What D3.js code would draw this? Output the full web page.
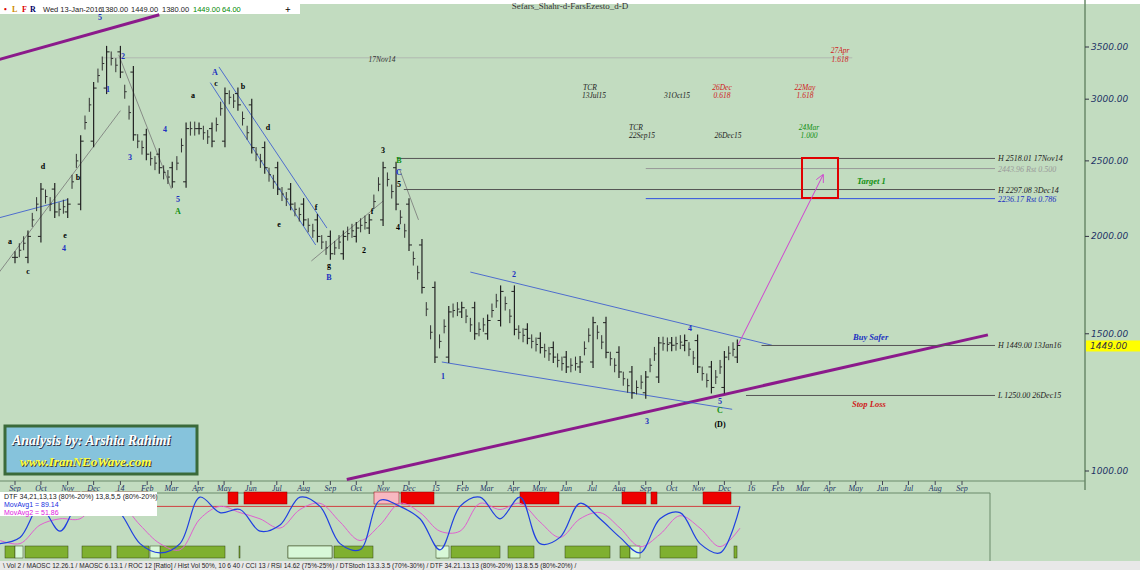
<!DOCTYPE html><html><head><meta charset="utf-8">
<script src="https://cdn.jsdelivr.net/npm/d3@7"></script>
<style>body{margin:0;background:#c2dcc0}svg{display:block}</style></head><body>
<svg id="c" width="1140" height="570"></svg>
<script>
// ---- data ----
const startDate = "2013-09-01";
const closes = [1880,2000,2300,2150,2200,2650,3100,3450,3250,2700,2550,2450,2350,2750,2750,2650,3050,2950,2600,2450,2300,2200,2100,2000,1900,2000,2050,2100,2450,2200,1950,1720,1400,1600,1620,1500,1560,1700,1520,1480,1440,1400,1360,1380,1550,1420,1340,1260,1320,1460,1450,1470,1360,1280,1400,1449];
const priceTicks = [1000,1500,2000,2500,3000,3500];
const monthLabels = ["Sep","Oct","Nov","Dec","14","Feb","Mar","Apr","May","Jun","Jul","Aug","Sep","Oct","Nov","Dec","15","Feb","Mar","Apr","May","Jun","Jul","Aug","Sep","Oct","Nov","Dec","16","Feb","Mar","Apr","May","Jun","Jul","Aug","Sep"];
const levels = [
 {p:2518.01,t:"H 2518.01 17Nov14",c:"#555",from:"2014-11-17",tc:"#222"},
 {p:2443.96,t:"2443.96 Rst 0.500",c:"#999",from:"2015-09-01",tc:"#999"},
 {p:2297.08,t:"H 2297.08 3Dec14",c:"#555",from:"2014-11-25",tc:"#222"},
 {p:2236.17,t:"2236.17 Rst 0.786",c:"#3050e0",from:"2015-09-01",tc:"#2030c0"},
 {p:1449.00,t:"H 1449.00 13Jan16",c:"#555",from:"2016-01-13",tc:"#222"},
 {p:1250.00,t:"L 1250.00 26Dec15",c:"#555",from:"2015-12-26",tc:"#222"}];
const oscBlue = [20,30,80,40,90,95,70,20,5,20,95,70,75,40,50,95,80,20,10,90,80,60,10,80,95,60,95,20,30,85,60,30,5,60,70,20,5,80];
const oscPink = [25,20,50,60,60,90,85,50,20,10,60,80,70,60,45,75,85,55,25,50,85,70,40,40,85,75,85,55,30,60,70,45,15,35,65,45,15,45];
const redBoxes = [[68,80],[82,97],[115,148],[228,238],[244,287],[374,399],[401,434],[520,559],[622,646],[651,657],[703,731]];
const greenBoxes = [[5,15],[25,68],[82,111],[117,149],[160,225],[239,240],[288,332],[334,373],[437,440],[451,500],[508,534],[565,610],[620,630],[660,697],[734,737]];
const lightGreen = [[15,23],[150,160],[288,332],[436,449],[630,640]];

const svg = d3.select("#c");
const W=1140;
const x = d3.scaleTime().domain([new Date("2013-09-01"),new Date("2016-09-01")]).range([15,962]);
const y = d3.scaleLog().domain([1000,3500]).range([471,47]);
const dates = closes.map((c,i)=>d3.timeDay.offset(new Date(startDate), Math.round(i*15.2)));

svg.append("rect").attr("width",W).attr("height",570).attr("fill","#c2dcc0");
svg.append("rect").attr("x",0).attr("y",0).attr("width",W).attr("height",4).attr("fill","#fff");
svg.append("rect").attr("x",0).attr("y",4).attr("width",300).attr("height",10).attr("fill","#fff");
svg.append("text").attr("x",570).attr("y",9).attr("text-anchor","middle").attr("font-size",9).attr("fill","#333").attr("font-family","Liberation Serif").text("Sefars_Shahr-d-FarsEzesto_d-D");
const hdr=[["•",4,"#d00"],["L",12,"#c80"],["F",22,"#d00"],["R",30,"#006"]];
hdr.forEach(h=>svg.append("text").attr("x",h[1]).attr("y",12).attr("font-size",8).attr("font-weight","bold").attr("fill",h[2]).text(h[0]));
[["Wed 13-Jan-2016",43,"#222"],["1380.00",101,"#222"],["1449.00",131,"#222"],["1380.00",162,"#222"],["1449.00",193,"#080"],["64.00",222,"#080"]].forEach(h=>svg.append("text").attr("x",h[1]).attr("y",12).attr("font-size",7.5).attr("font-family","Liberation Sans").attr("fill",h[2]).text(h[0]));
svg.append("text").attr("x",285).attr("y",13).attr("font-size",10).attr("font-weight","bold").text("+");

svg.append("line").attr("x1",1085).attr("x2",1085).attr("y1",0).attr("y2",490).attr("stroke","#6a8a6a").attr("stroke-width",1.5);
priceTicks.forEach(p=>{
 svg.append("line").attr("x1",1085).attr("x2",1089).attr("y1",y(p)).attr("y2",y(p)).attr("stroke","#334");
 svg.append("text").attr("x",1091).attr("y",y(p)+3).attr("font-size",9).attr("font-style","italic").attr("fill","#223366").attr("font-family","DejaVu Sans").text(p.toFixed(2));
});
svg.append("rect").attr("x",1086).attr("y",y(1449)-5).attr("width",54).attr("height",11).attr("fill","#ffff00");
svg.append("text").attr("x",1090).attr("y",y(1449)+4).attr("font-size",9).attr("font-style","italic").attr("fill","#334").attr("font-family","DejaVu Sans").text("1449.00");

svg.append("line").attr("x1",0).attr("x2",1085).attr("y1",481).attr("y2",481).attr("stroke","#6a8a6a");
monthLabels.forEach((m,i)=>{
 const d=d3.timeMonth.offset(new Date("2013-09-01"),i), xx=x(d);
 svg.append("line").attr("x1",xx).attr("x2",xx).attr("y1",481).attr("y2",485).attr("stroke","#445");
 svg.append("text").attr("x",xx).attr("y",491).attr("text-anchor","middle").attr("font-size",8).attr("font-style","italic").attr("font-family","Liberation Serif").attr("fill","#223366").text(m);
});

const trend=[[["2013-06-01",3200],["2014-02-15",3850]],[["2014-09-20",975],["2016-10-01",1495]]];
trend.forEach(t=>svg.append("line").attr("x1",x(new Date(t[0][0]))).attr("y1",y(t[0][1])).attr("x2",x(new Date(t[1][0]))).attr("y2",y(t[1][1])).attr("stroke","#8b1a8b").attr("stroke-width",3));
const chans=[[["2014-04-15",3150],["2014-08-15",1950],"#3050d0"],[["2014-04-25",3300],["2014-08-28",2050],"#3050d0"],[["2015-01-08",1380],["2015-12-10",1200],"#3050d0"],[["2015-02-10",1800],["2016-01-25",1450],"#3050d0"],[["2013-06-01",2010],["2013-11-01",2230],"#3050d0"],[["2013-06-01",1400],["2014-01-01",2900],"#777"],[["2013-12-30",3420],["2014-03-01",2300],"#777"],[["2014-08-10",1860],["2014-11-01",2220],"#777"],[["2014-11-20",2440],["2014-12-12",2100],"#777"]];
chans.forEach(t=>svg.append("line").attr("x1",x(new Date(t[0][0]))).attr("y1",y(t[0][1])).attr("x2",x(new Date(t[1][0]))).attr("y2",y(t[1][1])).attr("stroke",t[2]).attr("stroke-width",0.8));

svg.append("line").attr("x1",x(new Date("2013-12-10"))).attr("x2",x(new Date("2016-04-27"))).attr("y1",y(3390)).attr("y2",y(3390)).attr("stroke","#aaa").attr("stroke-width",0.7);
levels.forEach(l=>{
 svg.append("line").attr("x1",x(new Date(l.from))).attr("x2",995).attr("y1",y(l.p)).attr("y2",y(l.p)).attr("stroke",l.c).attr("stroke-width",1);
 svg.append("text").attr("x",998).attr("y",y(l.p)+3).attr("font-size",8).attr("font-style","italic").attr("font-family","Liberation Serif").attr("fill",l.tc).text(l.t);
});

const g=svg.append("g");
closes.forEach((c,i)=>{
 const prev=i?closes[i-1]:c, xx=x(dates[i]);
 const hi=Math.max(c,prev), lo=Math.min(c,prev);
 g.append("line").attr("x1",xx).attr("x2",xx).attr("y1",y(hi)-6).attr("y2",y(lo)+6).attr("stroke","#222").attr("stroke-width",1.2);
 g.append("line").attr("x1",xx-3).attr("x2",xx).attr("y1",y(prev)).attr("y2",y(prev)).attr("stroke","#222");
 g.append("line").attr("x1",xx).attr("x2",xx+3).attr("y1",y(c)).attr("y2",y(c)).attr("stroke","#222");
 if(i){const xp=x(dates[i-1]);[1/3,2/3].forEach(f=>{const xm=xp+(xx-xp)*f, v=prev+(c-prev)*f;g.append("line").attr("x1",xm).attr("x2",xm).attr("y1",y(v)-7).attr("y2",y(v)+7).attr("stroke","#333");g.append("line").attr("x1",xm).attr("x2",xm+2).attr("y1",y(v)).attr("y2",y(v)).attr("stroke","#333");});}
});

svg.append("rect").attr("x",802).attr("y",158).attr("width",36).attr("height",40).attr("fill","none").attr("stroke","#e00000").attr("stroke-width",2);
svg.append("defs").append("marker").attr("id","ah").attr("viewBox","0 0 10 10").attr("refX",9).attr("refY",5).attr("markerWidth",8).attr("markerHeight",8).attr("orient","auto").append("path").attr("d","M0,0L10,5L0,10").attr("fill","none").attr("stroke","#d040d0");
svg.append("line").attr("x1",738).attr("y1",345).attr("x2",823).attr("y2",175).attr("stroke","#d040d0").attr("stroke-width",1).attr("marker-end","url(#ah)");

const ann=[[100,20,"5","#2030c0"],[123,59,"2","#2030c0"],[108,92,"1","#2030c0"],[130,160,"3","#2030c0"],[165,132,"4","#2030c0"],[178,202,"5","#2030c0"],[178,214,"A","#109010"],[215,75,"A","#2030c0"],[216,86,"c","#000"],[193,98,"a","#000"],[243,89,"b","#000"],[268,130,"d","#000"],[329,280,"B","#2030c0"],[329,268,"g","#000"],[383,153,"3","#000"],[399,163,"B","#109010"],[399,175,"C","#2030c0"],[399,187,"5","#000"],[398,230,"4","#000"],[364,253,"2","#000"],[443,379,"1","#2030c0"],[514,277,"2","#2030c0"],[647,424,"3","#2030c0"],[690,331,"4","#2030c0"],[720,404,"5","#2030c0"],[720,413,"C","#109010"],[720,427,"(D)","#000"],[65,238,"e","#000"],[64,251,"4","#2030c0"],[43,169,"d","#000"],[28,274,"c","#000"],[10,244,"a","#000"],[78,180,"b","#000"],[279,227,"e","#000"],[316,210,"f","#000"],[372,214,"f","#000"]];
ann.forEach(a=>svg.append("text").attr("x",a[0]).attr("y",a[1]).attr("text-anchor","middle").attr("font-size",8).attr("font-weight","bold").attr("font-family","Liberation Serif").attr("fill",a[3]).text(a[2]));
const tl=[[382,62,"17Nov14","#333"],[840,53,"27Apr","#d02020"],[840,62,"1.618","#d02020"],[590,90,"TCR","#222"],[594,98,"13Jul15","#222"],[677,98,"31Oct15","#222"],[722,90,"26Dec","#d02020"],[722,98,"0.618","#d02020"],[805,90,"22May","#d02020"],[805,98,"1.618","#d02020"],[636,130,"TCR","#222"],[642,138,"22Sep15","#222"],[728,138,"26Dec15","#222"],[809,130,"24Mar","#109010"],[809,138,"1.000","#109010"]];
tl.forEach(a=>svg.append("text").attr("x",a[0]).attr("y",a[1]).attr("text-anchor","middle").attr("font-size",7.5).attr("font-style","italic").attr("font-family","Liberation Serif").attr("fill",a[3]).text(a[2]));
[[857,184,"Target 1","#109010"],[853,340,"Buy Safer","#2030c0"],[852,407,"Stop Loss","#d02020"]].forEach(a=>svg.append("text").attr("x",a[0]).attr("y",a[1]).attr("font-size",8.5).attr("font-weight","bold").attr("font-style","italic").attr("font-family","Liberation Serif").attr("fill",a[3]).text(a[2]));

svg.append("rect").attr("x",5).attr("y",426).attr("width",192).attr("height",48).attr("fill","#86c3dc").attr("stroke","#3a6a3a").attr("stroke-width",3);
svg.append("text").attr("x",13).attr("y",446).attr("font-size",14).attr("font-weight","bold").attr("font-style","italic").attr("font-family","Liberation Serif").attr("fill","#334").text("Analysis by: Arshia Rahimi");
svg.append("text").attr("x",12).attr("y",445).attr("font-size",14).attr("font-weight","bold").attr("font-style","italic").attr("font-family","Liberation Serif").attr("fill","#fff").text("Analysis by: Arshia Rahimi");
svg.append("text").attr("x",21).attr("y",467).attr("font-size",13).attr("font-weight","bold").attr("font-style","italic").attr("font-family","Liberation Serif").attr("fill","#443").text("www.IranNEoWave.com");
svg.append("text").attr("x",20).attr("y",466).attr("font-size",13).attr("font-weight","bold").attr("font-style","italic").attr("font-family","Liberation Serif").attr("fill","#ffff40").text("www.IranNEoWave.com");

const py=d3.scaleLinear().domain([0,100]).range([556,494]);
svg.append("line").attr("x1",0).attr("x2",990).attr("y1",493).attr("y2",493).attr("stroke","#6a8a6a");
svg.append("line").attr("x1",990).attr("x2",990).attr("y1",493).attr("y2",562).attr("stroke","#6a8a6a");
redBoxes.forEach((b,i)=>svg.append("rect").attr("x",b[0]).attr("y",492).attr("width",b[1]-b[0]).attr("height",12).attr("fill",i===5?"#f8b8c0":"#ee0000").attr("stroke","#800").attr("stroke-width",0.5));
greenBoxes.forEach(b=>svg.append("rect").attr("x",b[0]).attr("y",546).attr("width",b[1]-b[0]).attr("height",12).attr("fill","#7fb030").attr("stroke","#304010").attr("stroke-width",0.5));
lightGreen.forEach(b=>svg.append("rect").attr("x",b[0]).attr("y",546).attr("width",b[1]-b[0]).attr("height",12).attr("fill","#d8f8d8").attr("stroke","#304010").attr("stroke-width",0.5));
svg.append("line").attr("x1",0).attr("x2",740).attr("y1",py(80)).attr("y2",py(80)).attr("stroke","#d04040");
const ox=d3.scaleLinear().domain([0,oscBlue.length-1]).range([0,740]);
const ln=d3.line().x((d,i)=>ox(i)).y(d=>py(d)).curve(d3.curveCatmullRom);
svg.append("path").attr("d",ln(oscPink)).attr("fill","none").attr("stroke","#e060d0").attr("stroke-width",1);
svg.append("path").attr("d",ln(oscBlue)).attr("fill","none").attr("stroke","#2040e0").attr("stroke-width",1.2);
svg.append("rect").attr("x",0).attr("y",492).attr("width",157).attr("height",24).attr("fill","#fff");
[["DTF 34,21,13,13 (80%-20%) 13,8,5,5 (80%-20%)",499,"#222"],["MovAvg1 = 89.14",507,"#2030e0"],["MovAvg2 = 51.86",515,"#e020e0"]].forEach(t=>svg.append("text").attr("x",4).attr("y",t[1]).attr("font-size",7).attr("font-family","Liberation Sans").attr("fill",t[2]).text(t[0]));
svg.append("rect").attr("x",0).attr("y",561).attr("width",W).attr("height",9).attr("fill","#e8e8e8");
svg.append("text").attr("x",3).attr("y",568).attr("font-size",6.5).attr("font-family","Liberation Sans").attr("fill","#222").text("\\ Vol 2 / MAOSC 12.26.1 / MAOSC 6.13.1 / ROC 12 [Ratio] / Hist Vol 50%, 10 6 40 / CCI 13 / RSI 14.62 (75%-25%) / DTStoch 13.3.3.5 (70%-30%) / DTF 34.21.13.13 (80%-20%) 13.8.5.5 (80%-20%) /");
</script></body></html>
